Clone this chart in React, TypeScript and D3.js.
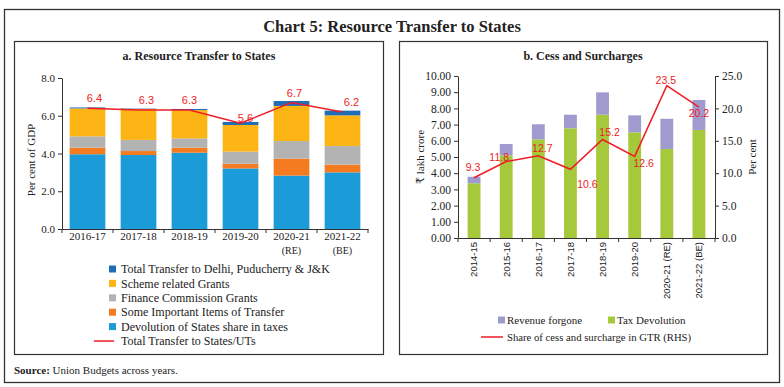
import React, { useEffect, useRef } from 'react';
import * as d3 from 'd3';

// Panel a: resource transfer to states (per cent of GDP)
const years = ['2016-17', '2017-18', '2018-19', '2019-20', '2020-21', '2021-22'];
const yearNotes = ['', '', '', '', '(RE)', '(BE)'];
const devolution = [3.96, 3.92, 4.04, 3.21, 2.83, 3.0];
const importantItems = [0.35, 0.21, 0.27, 0.25, 0.9, 0.41];
const financeGrants = [0.6, 0.59, 0.49, 0.64, 0.93, 0.99];
const schemeGrants = [1.48, 1.64, 1.5, 1.41, 1.86, 1.62];
const delhiJK = [0.05, 0.02, 0.06, 0.16, 0.26, 0.25];
const totalTransfer = [6.4, 6.3, 6.3, 5.6, 6.7, 6.2];
const gdpTicks = [0, 2, 4, 6, 8];

// Panel b: cess and surcharges
const cessYears = ['2014-15', '2015-16', '2016-17', '2017-18', '2018-19', '2019-20', '2020-21 (RE)', '2021-22 (BE)'];
const taxDevolution = [3.38, 5.1, 6.09, 6.77, 7.61, 6.52, 5.49, 6.67];
const revenueForgone = [0.4, 0.7, 0.93, 0.84, 1.38, 1.05, 1.87, 1.85];
const cessShare = [9.3, 11.8, 12.7, 10.6, 15.2, 12.6, 23.5, 20.2];
const croreTicks = [0, 1, 2, 3, 4, 5, 6, 7, 8, 9, 10];
const pctTicks = [0, 5, 10, 15, 20, 25];

// label nudges (dx, dy) for data labels, as placed in the original
const gdpLabelNudge = [[7, -10], [8, -10], [0, -10], [5, -5], [3, -9], [9, -10]];
const cessLabelNudge = [[-1, -10], [-7, -4], [4, -7], [17, 15], [7, -7], [9, 7], [-1, -5], [0, 6]];

const layersA = [
  { name: 'Devolution of States share in taxes', values: devolution, color: '#1b9bd7' },
  { name: 'Some Important Items of Transfer', values: importantItems, color: '#f47b20' },
  { name: 'Finance Commission Grants', values: financeGrants, color: '#b3b3b3' },
  { name: 'Scheme related Grants', values: schemeGrants, color: '#fdb515' },
  { name: 'Total Transfer to Delhi, Puducherry & J&K', values: delhiJK, color: '#1f6db5' },
];

const RED = '#ee1c25';
const SERIF = '"Liberation Serif", "DejaVu Serif", serif';
const SANS = '"Liberation Sans", Arial, sans-serif';

function App() {
  const svgRef = useRef<SVGSVGElement>(null);

  useEffect(() => {
    const svg = d3.select(svgRef.current);
    svg.selectAll('*').remove();

    svg.append('rect').attr('width', 784).attr('height', 387).attr('fill', '#fff');

    // Frames
    svg.append('rect').attr('x', 4.5).attr('y', 9.5).attr('width', 775).attr('height', 373)
      .attr('fill', 'none').attr('stroke', '#333').attr('stroke-width', 1.3);
    svg.append('rect').attr('x', 14.5).attr('y', 41.5).attr('width', 369).attr('height', 313)
      .attr('fill', 'none').attr('stroke', '#333').attr('stroke-width', 1.2);
    svg.append('rect').attr('x', 399.5).attr('y', 41.5).attr('width', 368).attr('height', 313)
      .attr('fill', 'none').attr('stroke', '#333').attr('stroke-width', 1.2);

    svg.append('text').attr('x', 392).attr('y', 32).attr('text-anchor', 'middle')
      .style('font-family', SERIF).style('font-size', '16.5px').style('font-weight', 'bold')
      .attr('fill', '#222').text('Chart 5: Resource Transfer to States');

    const src = svg.append('text').attr('x', 14).attr('y', 374)
      .style('font-family', SERIF).style('font-size', '11px').attr('fill', '#222');
    src.append('tspan').style('font-weight', 'bold').text('Source: ');
    src.append('tspan').text('Union Budgets across years.');

    // ---------- Panel a ----------
    const a = svg.append('g');
    a.append('text').attr('x', 199).attr('y', 60).attr('text-anchor', 'middle')
      .style('font-family', SERIF).style('font-size', '12px').style('font-weight', 'bold')
      .attr('fill', '#222').text('a. Resource Transfer to States');

    const xA = d3.scaleBand().domain(years).range([62, 368]).paddingInner(0.3).paddingOuter(0.15);
    const yA = d3.scaleLinear().domain([0, 8]).range([229, 78]);

    const stackedA = d3.stack<number>()
      .keys(layersA.map((_, i) => String(i)))
      .value((i, k) => layersA[+k].values[i])(years.map((_, i) => i));

    stackedA.forEach((layer, li) => {
      a.append('g').selectAll('rect').data(layer).enter().append('rect')
        .attr('x', (d) => xA(years[d.data])!)
        .attr('width', xA.bandwidth())
        .attr('y', (d) => yA(d[1]))
        .attr('height', (d) => yA(d[0]) - yA(d[1]))
        .attr('fill', layersA[li].color);
    });

    const yAxisA = a.append('g').attr('transform', 'translate(62,0)')
      .call(d3.axisLeft(yA).tickValues(gdpTicks).tickFormat(d3.format('.1f')).tickSize(4).tickSizeOuter(0));
    yAxisA.selectAll('text').style('font-family', SERIF).style('font-size', '11px').attr('fill', '#222');

    const xAxisA = a.append('g').attr('transform', 'translate(0,229)')
      .call(d3.axisBottom(xA).tickSize(0).tickSizeOuter(0).tickFormat(() => ''));
    const stepA = xA.step();
    d3.range(years.length + 1).forEach((i) => {
      const bx = 62 + i * stepA;
      xAxisA.append('line').attr('x1', bx).attr('x2', bx).attr('y1', 0).attr('y2', 4).attr('stroke', '#333');
    });
    years.forEach((yr, i) => {
      const cx = xA(yr)! + xA.bandwidth() / 2;
      a.append('text').attr('x', cx).attr('y', 240).attr('text-anchor', 'middle')
        .style('font-family', SERIF).style('font-size', '11px').attr('fill', '#222').text(yr);
      if (yearNotes[i]) {
        a.append('text').attr('x', cx).attr('y', 254).attr('text-anchor', 'middle')
          .style('font-family', SERIF).style('font-size', '10px').attr('fill', '#222').text(yearNotes[i]);
      }
    });
    a.selectAll('.domain, .tick line').attr('stroke', '#333');

    a.append('text').attr('transform', 'translate(35,160) rotate(-90)').attr('text-anchor', 'middle')
      .style('font-family', SERIF).style('font-size', '11px').attr('fill', '#222').text('Per cent of GDP');

    const lineA = d3.line<number>()
      .x((_, i) => xA(years[i])! + xA.bandwidth() / 2)
      .y((d) => yA(d));
    a.append('path').datum(totalTransfer).attr('d', lineA).attr('fill', 'none')
      .attr('stroke', RED).attr('stroke-width', 1.5);

    a.selectAll('.lblA').data(totalTransfer).enter().append('text')
      .attr('x', (_, i) => xA(years[i])! + xA.bandwidth() / 2 + gdpLabelNudge[i][0])
      .attr('y', (d, i) => yA(d) + gdpLabelNudge[i][1])
      .attr('dy', '0.35em').attr('text-anchor', 'middle')
      .style('font-family', SANS).style('font-size', '11px').attr('fill', RED)
      .text((d) => d3.format('.1f')(d));

    // legend a
    const legA = a.append('g');
    const legOrder = [...layersA].reverse();
    legOrder.forEach((l, i) => {
      const ly = 269 + i * 14.4;
      legA.append('rect').attr('x', 109).attr('y', ly - 3.5).attr('width', 7).attr('height', 7).attr('fill', l.color);
      legA.append('text').attr('x', 121).attr('y', ly).attr('dy', '0.35em')
        .style('font-family', SERIF).style('font-size', '12px').attr('fill', '#222').text(l.name);
    });
    const lyLast = 269 + 5 * 14.4;
    legA.append('line').attr('x1', 94).attr('x2', 114).attr('y1', lyLast).attr('y2', lyLast)
      .attr('stroke', RED).attr('stroke-width', 1.5);
    legA.append('text').attr('x', 121).attr('y', lyLast).attr('dy', '0.35em')
      .style('font-family', SERIF).style('font-size', '12px').attr('fill', '#222').text('Total Transfer to States/UTs');

    // ---------- Panel b ----------
    const b = svg.append('g');
    b.append('text').attr('x', 583).attr('y', 60).attr('text-anchor', 'middle')
      .style('font-family', SERIF).style('font-size', '12px').style('font-weight', 'bold')
      .attr('fill', '#222').text('b. Cess and Surcharges');

    const xB = d3.scaleBand().domain(cessYears).range([458, 715]).paddingInner(0.6).paddingOuter(0.3);
    const yB = d3.scaleLinear().domain([0, 10]).range([238, 76]);
    const yB2 = d3.scaleLinear().domain([0, 25]).range([238, 76]);

    const layersB = [
      { name: 'Tax Devolution', values: taxDevolution, color: '#a5c93b' },
      { name: 'Revenue forgone', values: revenueForgone, color: '#a09bcf' },
    ];
    const stackedB = d3.stack<number>()
      .keys(layersB.map((_, i) => String(i)))
      .value((i, k) => layersB[+k].values[i])(cessYears.map((_, i) => i));
    stackedB.forEach((layer, li) => {
      b.append('g').selectAll('rect').data(layer).enter().append('rect')
        .attr('x', (d) => xB(cessYears[d.data])!)
        .attr('width', xB.bandwidth())
        .attr('y', (d) => yB(d[1]))
        .attr('height', (d) => yB(d[0]) - yB(d[1]))
        .attr('fill', layersB[li].color);
    });

    const yAxisB = b.append('g').attr('transform', 'translate(458,0)')
      .call(d3.axisLeft(yB).tickValues(croreTicks).tickFormat(d3.format('.2f')).tickSize(4).tickSizeOuter(0));
    yAxisB.selectAll('text').style('font-family', SERIF).style('font-size', '11.5px').attr('fill', '#222');

    const yAxisB2 = b.append('g').attr('transform', 'translate(715,0)')
      .call(d3.axisRight(yB2).tickValues(pctTicks).tickFormat(d3.format('.1f')).tickSize(4).tickSizeOuter(0));
    yAxisB2.selectAll('text').style('font-family', SERIF).style('font-size', '11.5px').attr('fill', '#222');

    const xAxisB = b.append('g').attr('transform', 'translate(0,238)')
      .call(d3.axisBottom(xB).tickSize(0).tickSizeOuter(0).tickFormat(() => ''));
    const stepB = xB.step();
    d3.range(cessYears.length + 1).forEach((i) => {
      const bx = 458 + i * stepB;
      xAxisB.append('line').attr('x1', bx).attr('x2', bx).attr('y1', 0).attr('y2', 4).attr('stroke', '#333');
    });
    cessYears.forEach((yr) => {
      const cx = xB(yr)! + xB.bandwidth() / 2;
      b.append('text').attr('transform', `translate(${cx},242) rotate(-90)`)
        .attr('text-anchor', 'end').attr('dy', '0.35em')
        .style('font-family', SANS).style('font-size', '9.5px').attr('fill', '#222').text(yr);
    });
    b.selectAll('.domain, .tick line').attr('stroke', '#333');

    b.append('text').attr('transform', 'translate(420,157) rotate(-90)').attr('text-anchor', 'middle')
      .attr('dy', '0.35em')
      .style('font-family', SERIF).style('font-size', '11px').attr('fill', '#222').text('₹ lakh crore');
    b.append('text').attr('transform', 'translate(752,157) rotate(-90)').attr('text-anchor', 'middle')
      .attr('dy', '0.35em')
      .style('font-family', SERIF).style('font-size', '11px').attr('fill', '#222').text('Per cent');

    const lineB = d3.line<number>()
      .x((_, i) => xB(cessYears[i])! + xB.bandwidth() / 2)
      .y((d) => yB2(d));
    b.append('path').datum(cessShare).attr('d', lineB).attr('fill', 'none')
      .attr('stroke', RED).attr('stroke-width', 1.5);

    b.selectAll('.lblB').data(cessShare).enter().append('text')
      .attr('x', (_, i) => xB(cessYears[i])! + xB.bandwidth() / 2 + cessLabelNudge[i][0])
      .attr('y', (d, i) => yB2(d) + cessLabelNudge[i][1])
      .attr('dy', '0.35em').attr('text-anchor', 'middle')
      .style('font-family', SANS).style('font-size', '10.5px').attr('fill', RED)
      .text((d) => d3.format('.1f')(d));

    // legend b
    const legB = b.append('g');
    const legItems = [layersB[1], layersB[0]];
    const legX = [498, 608];
    legItems.forEach((l, i) => {
      legB.append('rect').attr('x', legX[i]).attr('y', 316.5).attr('width', 7).attr('height', 7).attr('fill', l.color);
      legB.append('text').attr('x', legX[i] + 9).attr('y', 320).attr('dy', '0.35em')
        .style('font-family', SERIF).style('font-size', '11px').attr('fill', '#222').text(l.name);
    });
    legB.append('line').attr('x1', 481).attr('x2', 503).attr('y1', 337).attr('y2', 337)
      .attr('stroke', RED).attr('stroke-width', 1.5);
    legB.append('text').attr('x', 507).attr('y', 337).attr('dy', '0.35em')
      .style('font-family', SERIF).style('font-size', '10.7px').attr('fill', '#222')
      .text('Share of cess and surcharge  in GTR (RHS)');
  }, []);

  return (
    <div style={{ position: 'absolute', left: 0, top: 0 }}>
      <svg ref={svgRef} width={784} height={387} style={{ display: 'block' }}></svg>
    </div>
  );
}

export default App;
